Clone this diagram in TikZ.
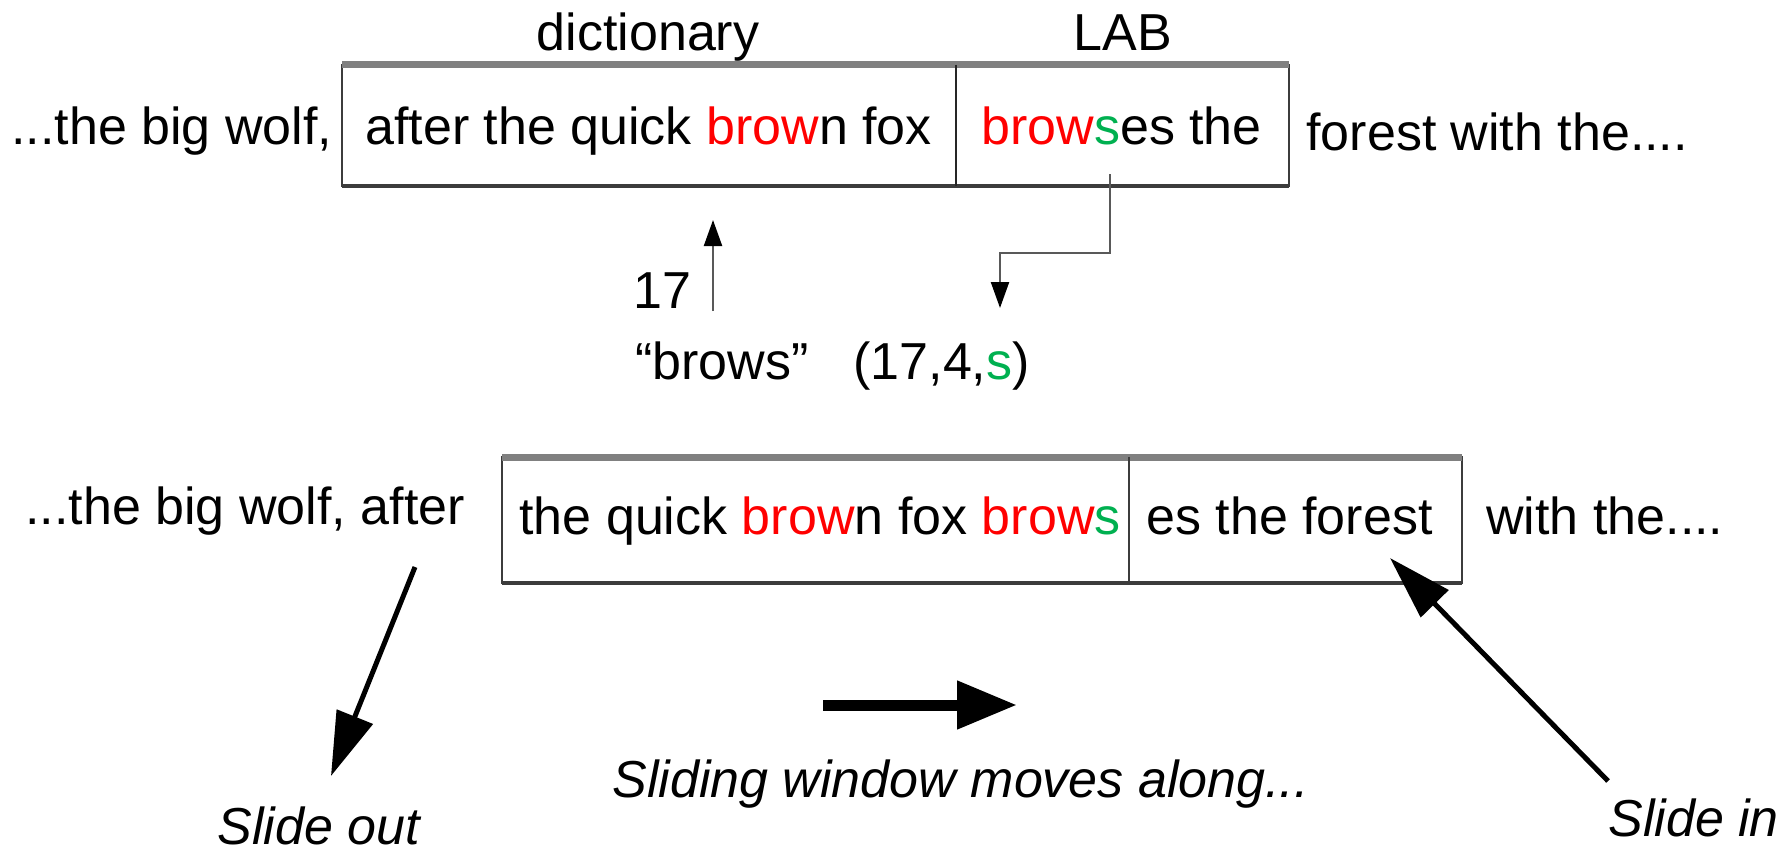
\documentclass[tikz,border=0pt]{standalone}
\usepackage{fontspec}
\setmainfont{Liberation Sans}
\usetikzlibrary{arrows.meta}
\definecolor{wred}{RGB}{255,0,0}
\definecolor{wgreen}{RGB}{0,176,80}
\definecolor{edgegray}{RGB}{128,128,128}
\definecolor{edgedark}{RGB}{60,60,60}
\newcommand{\rd}[1]{\textcolor{wred}{#1}}
\newcommand{\gr}[1]{\textcolor{wgreen}{#1}}
\begin{document}
\begin{tikzpicture}[x=0.5pt,y=-0.5pt,
  txt/.style={anchor=base west,inner sep=0pt,font=\fontsize{26}{31}\selectfont},
  itxt/.style={txt,font=\fontsize{26}{31}\selectfont\itshape},
  boxside/.style={draw=edgedark,line width=1pt},
  boxtop/.style={draw=edgegray,line width=3.5pt},
  boxbot/.style={draw=edgedark,line width=2pt},
  divider/.style={draw=black!85,line width=1pt},
  thinarr/.style={draw=black!65,line width=1.1pt,-{Triangle[length=13pt,width=9pt,fill=black,color=black]}},
  thickarr/.style={draw=black,line width=2.5pt,-{Triangle[length=32pt,width=19pt]}},
  fatarr/.style={draw=black,line width=5.5pt,-{Triangle[length=30pt,width=23pt]}}
]
\useasboundingbox (0,0) rectangle (1788,856);

% ---------- top window ----------
\coordinate (tA) at (342,65);
\coordinate (tB) at (1289,186);
\coordinate (tD1) at (956,65);
\coordinate (tD2) at (956,186);
\draw[boxside] (tA) rectangle (tB);
\draw[boxtop] (342,65) -- (1289,65);
\draw[boxbot] (342,186) -- (1289,186);
\draw[divider] (tD1) -- (tD2);

\node[txt,anchor=base] (dict) at (648,51) {dictionary};
\node[txt,anchor=base] (lab) at (1123,51) {LAB};
\node[txt] (pre1) at (11,145) {...the big wolf,};
\node[txt] (win1) at (365,145) {after the quick \rd{brow}n fox};
\node[txt] (lab1) at (981,145) {\rd{brow}\gr{s}es the};
\node[txt] (post1) at (1306,150) {forest with the....};

% pointer to dictionary
\node[txt,anchor=base east] (seventeen) at (692,308) {17};
\node[txt] (brows) at (635,379) {“brows”};
\node[txt] (triple) at (853,379) {(17,4,\gr{s})};
\coordinate (u1) at (713,311);
\coordinate (u2) at (713,220);
\draw[thinarr] (u1) -- (u2);

% elbow arrow to triple
\coordinate (e0) at (1110,174);
\coordinate (e1) at (1110,253);
\coordinate (e2) at (1000,253);
\coordinate (e3) at (1000,308);
\draw[thinarr] (e0) -- (e1) -- (e2) -- (e3);

% ---------- bottom window ----------
\coordinate (bA) at (502,457);
\coordinate (bB) at (1462,583);
\coordinate (bD1) at (1129,457);
\coordinate (bD2) at (1129,583);
\draw[boxside] (bA) rectangle (bB);
\draw[boxtop] (502,457) -- (1462,457);
\draw[boxbot] (502,583) -- (1462,583);
\draw[divider,draw=edgedark] (bD1) -- (bD2);

\node[txt] (pre2) at (25,524) {...the big wolf, after};
\node[txt] (win2) at (519,534) {the quick \rd{brow}n fox \rd{brow}\gr{s}};
\node[txt] (lab2) at (1146,534) {es the forest};
\node[txt] (post2) at (1486,534) {with the....};

% arrows
\coordinate (so0) at (415,567);
\coordinate (so1) at (331,776);
\draw[thickarr] (so0) -- (so1);
\coordinate (si0) at (1608,781);
\coordinate (si1) at (1390,558);
\draw[thickarr] (si0) -- (si1);
\coordinate (mv0) at (823,705);
\coordinate (mv1) at (1017,705);
\draw[fatarr] (mv0) -- (mv1);

\node[itxt] (moves) at (612,797) {Sliding window moves along...};
\node[itxt] (slout) at (217,844) {Slide out};
\node[itxt] (slin) at (1608,836) {Slide in};
\end{tikzpicture}
\end{document}
